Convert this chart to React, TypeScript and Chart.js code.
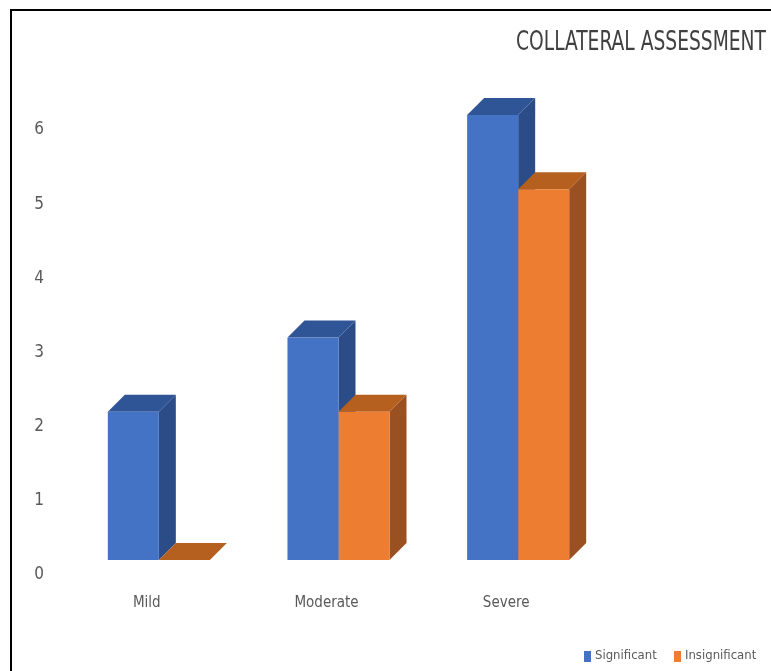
import React, { useEffect, useRef } from "react";
import { Chart, registerables } from "chart.js";

Chart.register(...registerables);

const categories = ["Mild", "Moderate", "Severe"];
const significant = [2, 3, 6];
const insignificant = [0, 2, 5];
const seriesNames = ["Significant", "Insignificant"];
const yTicks = [0, 1, 2, 3, 4, 5, 6];
const titleText = "COLLATERAL ASSESSMENT";

const FONT = "'Liberation Sans Narrow', 'DejaVu Sans Condensed', sans-serif";
const FRONT = ["#4472C4", "#ED7D31"];
const TOP = ["#2F5597", "#B5601F"];
const SIDE = ["#2B4C87", "#9A5020"];
const DEPTH = 17;

const threeD = {
  id: "threeD",
  beforeDraw(chart: any) {
    const ctx = chart.ctx;
    ctx.save();
    ctx.fillStyle = "#ffffff";
    ctx.fillRect(0, 0, chart.width, chart.height);
    ctx.fillStyle = "#000000";
    ctx.fillRect(10, 9, chart.width - 10, 2);
    ctx.fillRect(10, 9, 2, chart.height - 9);
    // title (condensed horizontally like the original narrow face)
    ctx.save();
    ctx.fillStyle = "#404040";
    ctx.font = `27px ${FONT}`;
    ctx.textAlign = "left";
    ctx.textBaseline = "alphabetic";
    const w = ctx.measureText(titleText).width;
    const target = 250;
    const sx = target / w;
    ctx.translate(516, 50);
    ctx.scale(sx, 1);
    ctx.fillText(titleText, 0, 0);
    ctx.restore();
    // legend
    ctx.font = `13px ${FONT}`;
    ctx.textAlign = "left";
    ctx.textBaseline = "middle";
    const legendX = [584, 674];
    seriesNames.forEach((name, i) => {
      ctx.fillStyle = FRONT[i];
      ctx.fillRect(legendX[i], 651, 7, 11);
      ctx.fillStyle = "#595959";
      ctx.fillText(name, legendX[i] + 11, 656);
    });
    ctx.restore();
  },
  beforeDatasetsDraw(chart: any) {
    const ctx = chart.ctx;
    ctx.save();
    const n = chart.data.labels.length;
    for (let c = 0; c < n; c++) {
      for (let d = 0; d < chart.data.datasets.length; d++) {
        const el = chart.getDatasetMeta(d).data[c];
        const { x, y, base, width } = el.getProps(["x", "y", "base", "width"], true);
        const l = x - width / 2;
        const r = x + width / 2;
        // side
        ctx.fillStyle = SIDE[d];
        ctx.beginPath();
        ctx.moveTo(r, y);
        ctx.lineTo(r + DEPTH, y - DEPTH);
        ctx.lineTo(r + DEPTH, base - DEPTH);
        ctx.lineTo(r, base);
        ctx.closePath();
        ctx.fill();
        // top
        ctx.fillStyle = TOP[d];
        ctx.beginPath();
        ctx.moveTo(l, y);
        ctx.lineTo(l + DEPTH, y - DEPTH);
        ctx.lineTo(r + DEPTH, y - DEPTH);
        ctx.lineTo(r, y);
        ctx.closePath();
        ctx.fill();
      }
    }
    ctx.restore();
  },
};

export default function App() {
  const ref = useRef<HTMLCanvasElement>(null);
  useEffect(() => {
    if (!ref.current) return;
    const chart = new Chart(ref.current, {
      type: "bar",
      data: {
        labels: categories,
        datasets: [
          { label: seriesNames[0], data: significant, backgroundColor: FRONT[0], borderWidth: 0 },
          { label: seriesNames[1], data: insignificant, backgroundColor: FRONT[1], borderWidth: 0 },
        ],
      },
      options: {
        animation: false,
        responsive: false,
        maintainAspectRatio: false,
        layout: { padding: { top: 78, left: 0, right: 0, bottom: 0 } },
        plugins: {
          legend: { display: false },
          title: { display: false },
          tooltip: { enabled: false },
        },
        datasets: { bar: { categoryPercentage: 0.568, barPercentage: 1 } },
        scales: {
          x: {
            grid: { display: false },
            border: { display: false },
            ticks: {
              color: "#595959",
              font: { family: FONT, size: 15 },
              labelOffset: -12,
              padding: 26,
            },
            afterFit: (axis: any) => {
              axis.height = 111;
            },
          },
          y: {
            min: 0,
            max: 6.5,
            grid: { display: false },
            border: { display: false },
            afterBuildTicks: (axis: any) => {
              axis.ticks = yTicks.map((v) => ({ value: v }));
            },
            ticks: {
              color: "#595959",
              font: { family: FONT, size: 17 },
              labelOffset: 15,
              padding: 17,
            },
            afterFit: (axis: any) => {
              axis.width = 69;
            },
          },
          yRight: {
            position: "right",
            grid: { display: false },
            border: { display: false },
            ticks: { display: false },
            afterFit: (axis: any) => {
              axis.width = 163;
            },
          },
        },
      },
      plugins: [threeD],
    });
    return () => chart.destroy();
  }, []);
  return (
    <div style={{ position: "fixed", left: 0, top: 0, width: 771, height: 671 }}>
      <canvas ref={ref} width={771} height={671} style={{ width: 771, height: 671 }} />
    </div>
  );
}
